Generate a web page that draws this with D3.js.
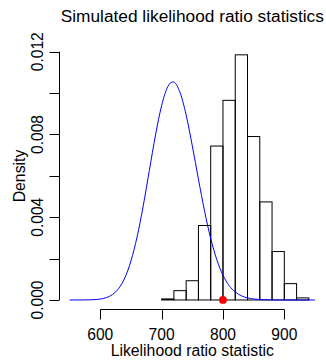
<!DOCTYPE html>
<html>
<head>
	<script src="https://d3js.org/d3.v7.min.js"></script>
	<style>
		body { margin: 0; background: #fff; }
		text { font-family: "Liberation Sans", Arial, sans-serif; fill: #000; }
	</style>
</head>
<body>
	<div class="chart"></div>
	<script>
		var w = 326, h = 361;

		// histogram bins (lower edge, width 20) and their densities
		var binStarts = [700, 720, 740, 760, 780, 800, 820, 840, 860, 880, 900, 920];
		var binDensity = [0.00005, 0.00045, 0.00093, 0.0036, 0.00744, 0.00965, 0.01185, 0.0079, 0.00474, 0.00234, 0.00079, 0.0001];
		var binWidth = 20;

		// blue reference curve
		var curveX = [550, 560, 570, 580, 590, 600, 610, 620, 630, 640, 650, 660, 670, 680, 690, 700, 710, 718, 720, 730, 740, 750, 760, 770, 780, 790, 800, 810, 820, 830, 840, 850, 860, 870, 880, 900, 950];
		var curveY = [0, 0.0000004, 0.0000015, 0.000005, 0.000016, 0.000045, 0.000115, 0.000266, 0.000557, 0.001068, 0.00189, 0.00305, 0.00455, 0.006266, 0.00797, 0.009395, 0.01031, 0.01054, 0.01053, 0.01003, 0.008937, 0.00745, 0.005843, 0.004294, 0.002972, 0.00194, 0.001195, 0.000697, 0.000385, 0.000201, 0.0001, 0.000047, 0.000021, 0.000009, 0.000004, 0, 0];

		// observed statistic
		var observed = 800;

		var xTicks = [600, 700, 800, 900];
		var yTicks = [0, 0.002, 0.004, 0.006, 0.008, 0.010, 0.012];
		var yLabels = [0, 0.004, 0.008, 0.012];

		var svg = d3.select(".chart").append("svg")
			.attr("width", w)
			.attr("height", h);

		var x = d3.scaleLinear().domain([534, 966]).range([59.8, 324.8]);
		var y = d3.scaleLinear().domain([-0.00048, 0.01248]).range([309.9, 41.8]);

		// histogram
		svg.append("g")
			.selectAll("rect")
			.data(binStarts)
			.enter()
			.append("rect")
			.attr("x", function(d) { return x(d); })
			.attr("y", function(d, i) { return y(binDensity[i]); })
			.attr("width", function(d) { return x(d + binWidth) - x(d); })
			.attr("height", function(d, i) { return y(0) - y(binDensity[i]); })
			.attr("fill", "none")
			.attr("stroke", "#000")
			.attr("stroke-width", 1);

		// curve
		var pts = curveX.map(function(d, i) { return [d, curveY[i]]; });
		var line = d3.line()
			.x(function(d) { return x(d[0]); })
			.y(function(d) { return y(d[1]); })
			.curve(d3.curveMonotoneX);
		svg.append("path")
			.datum(pts)
			.attr("d", line)
			.attr("fill", "none")
			.attr("stroke", "#0000ff")
			.attr("stroke-width", 1);

		svg.append("circle")
			.attr("cx", x(observed))
			.attr("cy", y(0))
			.attr("r", 3.9)
			.attr("fill", "#ff0000");

		// x axis
		var xAxis = svg.append("g").attr("transform", "translate(0,309.5)");
		xAxis.append("line")
			.attr("x1", x(600)).attr("x2", x(900))
			.attr("stroke", "#000");
		xAxis.selectAll(".tk").data(xTicks).enter().append("line")
			.attr("x1", function(d) { return Math.round(x(d)) + 0.5; })
			.attr("x2", function(d) { return Math.round(x(d)) + 0.5; })
			.attr("y1", 0).attr("y2", 10)
			.attr("stroke", "#000");
		xAxis.selectAll("text").data(xTicks).enter().append("text")
			.attr("x", function(d) { return x(d); })
			.attr("y", 30.5)
			.attr("text-anchor", "middle")
			.style("font-size", "15.6px")
			.text(function(d) { return d; });

		// y axis
		var yAxis = svg.append("g").attr("transform", "translate(59.5,0)");
		yAxis.append("line")
			.attr("y1", y(0)).attr("y2", y(0.012))
			.attr("stroke", "#000");
		yAxis.selectAll(".tk").data(yTicks).enter().append("line")
			.attr("y1", function(d) { return Math.round(y(d)) + 0.5; })
			.attr("y2", function(d) { return Math.round(y(d)) + 0.5; })
			.attr("x1", 0).attr("x2", -10)
			.attr("stroke", "#000");
		yAxis.selectAll("text").data(yLabels).enter().append("text")
			.attr("transform", function(d) { return "translate(-16.8," + y(d) + ")rotate(-90)"; })
			.attr("text-anchor", "middle")
			.style("font-size", "15.6px")
			.text(function(d) { return d3.format(".3f")(d); });

		// titles
		svg.append("text")
			.attr("x", 192.3).attr("y", 21.5)
			.attr("text-anchor", "middle")
			.style("font-size", "17.3px")
			.text("Simulated likelihood ratio statistics");
		svg.append("text")
			.attr("x", 192.3).attr("y", 356)
			.attr("text-anchor", "middle")
			.style("font-size", "15.8px")
			.text("Likelihood ratio statistic");
		svg.append("text")
			.attr("transform", "translate(25,176)rotate(-90)")
			.attr("text-anchor", "middle")
			.style("font-size", "15.8px")
			.text("Density");
	</script>
</body>
</html>
